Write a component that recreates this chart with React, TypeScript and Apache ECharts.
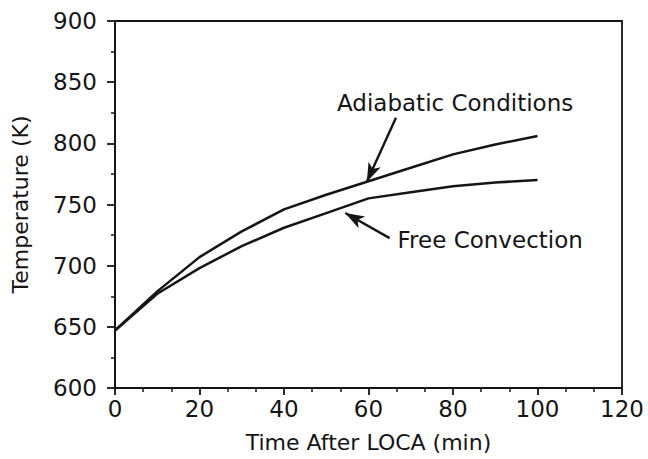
import React, { useEffect, useRef } from "react";
import * as echarts from "echarts";

const times = [0, 10, 20, 30, 40, 50, 60, 70, 80, 90, 100];
const adiabatic = [647, 679, 707, 728, 746, 758, 769, 780, 791, 799, 806];
const freeConvection = [647, 677, 698, 716, 731, 743, 755, 760, 765, 768, 770];

const xTitle = "Time After LOCA (min)";
const yTitle = "Temperature (K)";
const adiabaticLabel = "Adiabatic Conditions";
const freeLabel = "Free Convection";

// annotation anchors in data space [time, temperature]
const adiabaticArrow = [[66.5, 821], [59.6, 768.5]];
const freeArrow = [[65, 722.5], [54.5, 743]];
const adiabaticTextAt = [80.5, 833];
const freeTextAt = [88.8, 721];

const INK = "#151515";
const FONT = "DejaVu Sans, Liberation Sans, sans-serif";

export default function App() {
  const ref = useRef<HTMLDivElement>(null);
  useEffect(() => {
    if (!ref.current) return;
    const chart = echarts.init(ref.current, null, { renderer: "svg" });
    const pair = (xs: number[], ys: number[]) => xs.map((x, i) => [x, ys[i]]);
    const arrowLine = (a: number[][]) => [[{ coord: a[0] }, { coord: a[1] }]];
    const textMark = (text: string, at: number[]) => ({
      symbol: "rect",
      symbolSize: 1,
      itemStyle: { color: "transparent" },
      label: {
        show: true,
        formatter: text,
        color: INK,
        fontSize: 23,
        fontFamily: FONT,
        position: "inside",
      },
      data: [{ coord: at }],
    });
    const arrowMark = (a: number[][]) => ({
      silent: true,
      symbol: ["none", "arrow"],
      symbolSize: [10, 19],
      label: { show: false },
      lineStyle: { color: INK, width: 2.4, type: "solid" },
      data: arrowLine(a),
    });
    chart.setOption({
      animation: false,
      backgroundColor: "#ffffff",
      grid: {
        left: 115,
        right: 26,
        top: 21,
        bottom: 71,
        outerBoundsMode: "none",
        containLabel: false,
        show: true,
        borderColor: INK,
        borderWidth: 1.8,
      },
      xAxis: {
        type: "value",
        min: 0,
        max: 120,
        interval: 20,
        name: xTitle,
        nameLocation: "middle",
        nameGap: 43,
        nameTextStyle: { fontSize: 22, color: INK, fontFamily: FONT },
        axisLine: { lineStyle: { color: INK, width: 1.8 } },
        axisTick: { show: true, inside: false, length: 7, lineStyle: { color: INK, width: 1.8 } },
        minorTick: { show: true, splitNumber: 3, length: 4, lineStyle: { color: INK, width: 1.5 } },
        axisLabel: { fontSize: 23, color: INK, fontFamily: FONT, margin: 9 },
        splitLine: { show: false },
      },
      yAxis: {
        type: "value",
        min: 600,
        max: 900,
        interval: 50,
        name: yTitle,
        nameLocation: "middle",
        nameGap: 84,
        nameTextStyle: { fontSize: 22, color: INK, fontFamily: FONT },
        axisLine: { show: true, lineStyle: { color: INK, width: 1.8 } },
        axisTick: { show: true, inside: false, length: 8, lineStyle: { color: INK, width: 1.8 } },
        minorTick: { show: true, splitNumber: 2, length: 4, lineStyle: { color: INK, width: 1.5 } },
        axisLabel: { fontSize: 23, color: INK, fontFamily: FONT, margin: 18 },
        splitLine: { show: false },
      },
      series: [
        {
          name: adiabaticLabel,
          type: "line",
          data: pair(times, adiabatic),
          showSymbol: false,
          lineStyle: { color: INK, width: 2.5 },
          markLine: arrowMark(adiabaticArrow),
          markPoint: textMark(adiabaticLabel, adiabaticTextAt),
        },
        {
          name: freeLabel,
          type: "line",
          data: pair(times, freeConvection),
          showSymbol: false,
          lineStyle: { color: INK, width: 2.5 },
          markLine: arrowMark(freeArrow),
          markPoint: textMark(freeLabel, freeTextAt),
        },
      ],
    });
    return () => chart.dispose();
  }, []);
  return (
    <div
      ref={ref}
      style={{ position: "absolute", left: 0, top: 0, width: 648, height: 459 }}
    />
  );
}
